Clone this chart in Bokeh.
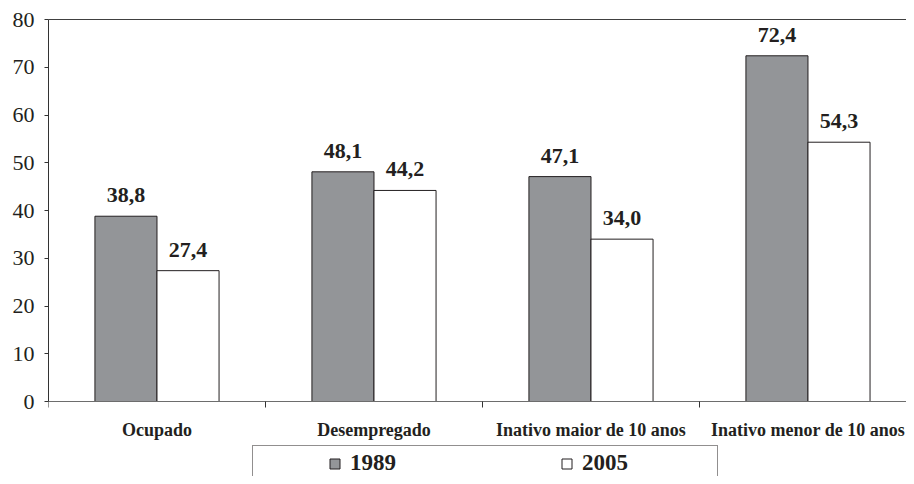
from bokeh.plotting import figure
from bokeh.models import (ColumnDataSource, Range1d, FixedTicker, LinearAxis,
                          Legend, LegendItem, LabelSet)
from bokeh.transform import dodge
from bokeh.embed import file_html
from bokeh.resources import INLINE

categories = ["Ocupado", "Desempregado", "Inativo maior de 10 anos", "Inativo menor de 10 anos"]
v1989 = [38.8, 48.1, 47.1, 72.4]
v2005 = [27.4, 44.2, 34.0, 54.3]
years = ["1989", "2005"]
yticks = [0, 10, 20, 30, 40, 50, 60, 70, 80]

GRAY = "#939598"
INK = "#231f20"
SERIF = "Liberation Serif"


def fmt(v):
    return f"{v:.1f}".replace(".", ",")


centers = [i + 0.5 for i in range(len(categories))]
src = ColumnDataSource(dict(
    x=centers, cat=categories, a=v1989, b=v2005,
    la=[fmt(v) for v in v1989], lb=[fmt(v) for v in v2005],
    zero=[0] * len(categories),
))

# frame spans y = 19 .. 476 px; value 0 sits 75 px above the frame bottom
px_per_unit = (401 - 19) / 80.0
ymin = -(476 - 401) / px_per_unit

p = figure(width=906, height=476, output_backend="svg", toolbar_location=None,
           x_range=Range1d(0, 3.954), y_range=Range1d(ymin, 80),
           min_border_left=48, min_border_right=0, min_border_top=19,
           min_border_bottom=0)
p.outline_line_color = None
p.xgrid.visible = False
p.ygrid.visible = False
p.background_fill_color = "white"

off = 0.143
bw = 0.286

# legend proxies (hidden under bars)
r1 = p.scatter(x=dodge("x", -off), y="zero", source=src, marker="square", size=0,
               fill_color=GRAY, line_color=INK, line_width=1)
r2 = p.scatter(x=dodge("x", off), y="zero", source=src, marker="square", size=0,
               fill_color="white", line_color=INK, line_width=1)
r0 = p.scatter(x=dodge("x", off), y="zero", source=src, marker="square", size=0,
               fill_alpha=0, line_alpha=0)

p.vbar(x=dodge("x", -off), top="a", bottom=0, width=bw, source=src,
       fill_color=GRAY, line_color=INK, line_width=1)
p.vbar(x=dodge("x", off), top="b", bottom=0, width=bw, source=src,
       fill_color="white", line_color=INK, line_width=1)

for field, txt in (("a", "la"), ("b", "lb")):
    d = -off if field == "a" else off
    p.add_layout(LabelSet(x=dodge("x", d), y=field, text=txt, source=src,
                          text_align="center", text_baseline="alphabetic",
                          y_offset=14, text_font=SERIF, text_font_style="bold",
                          text_font_size="22px", text_color=INK))

# y axis
ya = p.yaxis[0]
ya.ticker = FixedTicker(ticks=yticks)
ya.bounds = (0, 80)
ya.major_tick_in = 0
ya.major_tick_out = 4
ya.minor_tick_in = 0
ya.minor_tick_out = 0
ya.axis_line_color = "#333333"
ya.major_tick_line_color = "#333333"
ya.major_label_text_font = SERIF
ya.major_label_text_font_size = "22px"
ya.major_label_text_color = INK
ya.major_label_standoff = 10

# x axis, fixed at value 0 inside the frame
xa = p.xaxis[0]
xa.fixed_location = 0
xa.ticker = FixedTicker(ticks=centers, minor_ticks=[0, 1, 2, 3, 4])
xa.major_label_overrides = {c: n for c, n in zip(centers, categories)}
xa.major_tick_in = 0
xa.major_tick_out = 0
xa.minor_tick_in = 0
xa.minor_tick_out = 6
xa.axis_line_color = "#6d6d6d"
xa.minor_tick_line_color = "#333333"
xa.major_label_text_font = SERIF
xa.major_label_text_font_style = "bold"
xa.major_label_text_font_size = "18px"
xa.major_label_text_color = INK
xa.major_label_standoff = 12

# top border line
top = LinearAxis(ticker=FixedTicker(ticks=[]), major_label_text_font_size="0px",
                 major_tick_out=0, major_tick_in=0, minor_tick_out=0, minor_tick_in=0,
                 major_label_standoff=0, axis_line_color="#404040")
p.add_layout(top, "above")

common = dict(orientation="horizontal", padding=4, margin=0,
              glyph_width=25, glyph_height=25, label_height=20,
              label_text_font=SERIF, label_text_font_style="bold",
              label_text_font_size="23px", label_text_color=INK)

# legend frame (box only)
frame_legend = Legend(items=[LegendItem(label=" ", renderers=[r0])],
                      location=(204, -4), label_standoff=0, label_width=431,
                      border_line_color=INK, border_line_width=1,
                      background_fill_color="white", background_fill_alpha=1,
                      **common)
p.add_layout(frame_legend, "center")

legend = Legend(items=[LegendItem(label=years[0], renderers=[r1]),
                       LegendItem(label=years[1], renderers=[r2])],
                location=(270, -4), label_standoff=3, label_width=60, spacing=144,
                border_line_alpha=0, background_fill_alpha=0, **common)
p.add_layout(legend, "center")

open("out.html", "w").write(file_html(p, INLINE))
